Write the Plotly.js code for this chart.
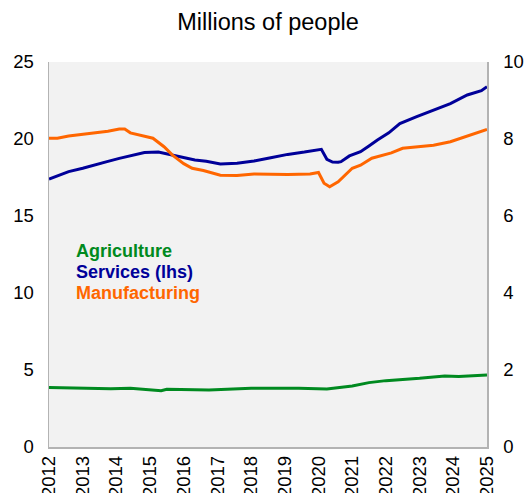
<!DOCTYPE html>
<html>
<head>
<meta charset="utf-8">
<script src="https://cdn.plot.ly/plotly-3.0.1.min.js"></script>
<style>html,body{margin:0;padding:0;background:#fff;}#chart{width:524px;height:493px;}</style>
</head>
<body>
<div id="chart"></div>
<script>
const servicesDates = ["2012-01-01","2012-05-01","2012-08-01","2013-01-01","2013-05-01","2013-10-01","2014-02-01","2014-07-01","2014-11-01","2015-04-01","2015-09-01","2016-01-01","2016-05-01","2016-09-01","2017-02-01","2017-08-01","2018-02-01","2018-08-01","2019-02-01","2019-08-01","2020-01-01","2020-02-01","2020-04-01","2020-06-01","2020-08-01","2020-09-01","2020-12-01","2021-04-01","2021-07-01","2021-10-01","2022-02-01","2022-06-01","2022-12-01","2023-06-01","2023-12-01","2024-06-01","2024-11-01","2025-01-01"];
const servicesValues = [17.4,17.7,17.88,18.1,18.31,18.55,18.74,18.95,19.12,19.15,18.95,18.78,18.64,18.55,18.38,18.42,18.57,18.78,19.0,19.15,19.3,19.33,18.68,18.5,18.49,18.53,18.9,19.18,19.55,19.94,20.4,21.0,21.45,21.88,22.3,22.86,23.14,23.4];

const manufDates = ["2012-01-01","2012-04-01","2012-08-01","2013-05-01","2013-10-01","2014-02-01","2014-04-01","2014-06-01","2015-02-01","2015-06-01","2015-09-01","2016-01-01","2016-04-01","2016-08-01","2017-02-01","2017-08-01","2018-02-01","2019-02-01","2019-10-01","2020-01-01","2020-03-01","2020-05-01","2020-08-01","2021-01-01","2021-04-01","2021-08-01","2022-03-01","2022-07-01","2022-12-01","2023-06-01","2023-12-01","2024-06-01","2025-01-01"];
const manufValues = [8.02,8.02,8.08,8.16,8.2,8.26,8.26,8.16,8.02,7.8,7.58,7.36,7.24,7.18,7.06,7.05,7.09,7.08,7.09,7.13,6.85,6.76,6.89,7.24,7.32,7.5,7.64,7.76,7.8,7.84,7.93,8.08,8.25];

const agriDates = ["2012-01-01","2013-11-01","2014-06-01","2015-05-01","2015-07-01","2016-10-01","2018-01-01","2019-06-01","2020-04-01","2020-09-01","2021-01-01","2021-07-01","2022-01-01","2023-01-01","2023-10-01","2024-03-01","2025-01-01"];
const agriValues = [1.548,1.516,1.528,1.464,1.5,1.48,1.528,1.528,1.508,1.54,1.584,1.672,1.724,1.784,1.844,1.828,1.872];

const yearTicks = ["2012","2013","2014","2015","2016","2017","2018","2019","2020","2021","2022","2023","2024","2025"];
const leftTicks = [0,5,10,15,20,25];
const rightTicks = [0,2,4,6,8,10];

const colAgri = "#008a20", colServ = "#000099", colManu = "#ff6600";

const traces = [
  {x: agriDates, y: agriValues, yaxis: "y2", type: "scatter", mode: "lines", line: {color: colAgri, width: 3}, name: "Agriculture"},
  {x: manufDates, y: manufValues, yaxis: "y2", type: "scatter", mode: "lines", line: {color: colManu, width: 3}, name: "Manufacturing"},
  {x: servicesDates, y: servicesValues, yaxis: "y", type: "scatter", mode: "lines", line: {color: colServ, width: 3}, name: "Services (lhs)"}
];

const font = {family: "Liberation Sans, Arial, sans-serif", size: 18.5, color: "#000"};

const layout = {
  width: 524, height: 493,
  margin: {l: 49, r: 37, t: 62, b: 46},
  paper_bgcolor: "#ffffff",
  plot_bgcolor: "#f2f2f2",
  showlegend: false,
  font: font,
  title: {text: "Millions of people", font: {family: font.family, size: 23.5, color: "#000"}, x: 0.5, xref: "paper", y: 0.955, yref: "container", yanchor: "middle"},
  xaxis: {
    type: "date", range: ["2012-01-01", "2025-01-01"],
    tickvals: yearTicks.map(y => y + "-01-01"), ticktext: yearTicks,
    tickangle: -90, ticks: "", showgrid: false, zeroline: false,
    showline: true, linecolor: "#b3b3b3", linewidth: 1.5,
    tickfont: {size: 18.5}, automargin: false
  },
  yaxis: {
    range: [0, 25], tickvals: leftTicks, ticks: "", showgrid: false, zeroline: false,
    showline: true, linecolor: "#b3b3b3", linewidth: 1.5, ticklabelstandoff: 10,
    tickfont: {size: 18.5}, automargin: false
  },
  yaxis2: {
    range: [0, 10], tickvals: rightTicks, overlaying: "y", side: "right", ticks: "", showgrid: false, zeroline: false,
    showline: true, linecolor: "#b3b3b3", linewidth: 1.5, ticklabelstandoff: 11,
    tickfont: {size: 18.5}, automargin: false
  },
  annotations: [
    {text: "<b>Agriculture</b>", font: {size: 18, color: colAgri}, xref: "paper", yref: "paper", x: 0.058, y: 0.508, xanchor: "left", yanchor: "middle", showarrow: false},
    {text: "<b>Services (lhs)</b>", font: {size: 18, color: colServ}, xref: "paper", yref: "paper", x: 0.058, y: 0.455, xanchor: "left", yanchor: "middle", showarrow: false},
    {text: "<b>Manufacturing</b>", font: {size: 18, color: colManu}, xref: "paper", yref: "paper", x: 0.058, y: 0.401, xanchor: "left", yanchor: "middle", showarrow: false}
  ]
};

Plotly.newPlot("chart", traces, layout, {staticPlot: true, displayModeBar: false});
</script>
</body>
</html>
